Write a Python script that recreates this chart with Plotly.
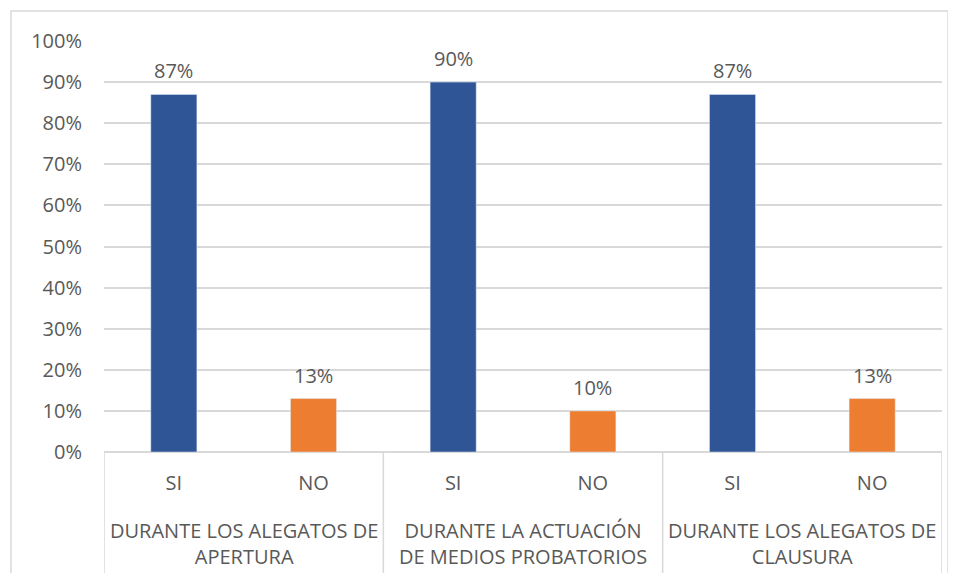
import plotly.graph_objects as go

# data
groups = ["DURANTE LOS ALEGATOS DE<br>APERTURA",
          "DURANTE LA ACTUACIÓN<br>DE MEDIOS PROBATORIOS",
          "DURANTE LOS ALEGATOS DE<br>CLAUSURA"]
answers = ["SI", "NO"]
si_values = [0.87, 0.90, 0.87]
no_values = [0.13, 0.10, 0.13]

blue = "#2F5597"
orange = "#ED7D31"
grey_txt = "#595959"
grid = "#D9D9D9"
font_name = "Open Sans"
fsize = 20

# positions: each group holds SI then NO
x_si = [2 * i for i in range(len(groups))]
x_no = [2 * i + 1 for i in range(len(groups))]

fig = go.Figure()
fig.add_trace(go.Bar(x=x_si, y=si_values, width=0.33, marker_color=blue, name="SI"))
fig.add_trace(go.Bar(x=x_no, y=no_values, width=0.33, marker_color=orange, name="NO"))

# value labels above the bars
for xs, vs in [(x_si, si_values), (x_no, no_values)]:
    for x, v in zip(xs, vs):
        fig.add_annotation(x=x, y=v, xref="x", yref="y", text=f"{v:.0%}",
                           showarrow=False, yanchor="bottom", yshift=8,
                           font=dict(size=fsize, color=grey_txt, family=font_name))

tick_pos = sorted(x_si + x_no)
tick_txt = [answers[p % 2] for p in tick_pos]

# page body adds 8px margin, so the figure is a bit smaller than the window
fig.update_layout(
    width=940, height=565,
    margin=dict(l=96, r=6, t=33, b=121),
    paper_bgcolor="white", plot_bgcolor="white",
    showlegend=False, barmode="overlay",
    font=dict(family=font_name, size=fsize, color=grey_txt),
    xaxis=dict(range=[-0.5, 5.5], tickvals=tick_pos, ticktext=tick_txt,
               showgrid=False, zeroline=False, showline=False, ticks="",
               ticklabelstandoff=17),
    yaxis=dict(range=[0, 1], dtick=0.1, tickformat=".0%", showgrid=True,
               gridcolor=grid, gridwidth=1.5, zeroline=True, zerolinecolor=grid,
               zerolinewidth=1.5, showline=False, ticks="", ticklabelstandoff=21),
)

# group labels under the SI/NO row
for i, g in enumerate(groups):
    fig.add_annotation(x=2 * i + 0.5, y=-0.223, xref="x", yref="paper",
                       text=g, showarrow=False, align="center", yanchor="middle",
                       font=dict(size=fsize, color=grey_txt, family=font_name))

# category divider lines
for xd in [-0.5, 1.5, 3.5, 5.5]:
    fig.add_shape(type="line", x0=xd, x1=xd, y0=0, y1=-0.297,
                  xref="x", yref="paper", line=dict(color=grid, width=1.5))

# chart area border
fig.add_shape(type="rect", x0=-0.111, x1=1.0072, y0=-0.4, y1=1.073,
              xref="paper", yref="paper", line=dict(color=grid, width=1.5),
              layer="below")

fig.write_html("out.html")
